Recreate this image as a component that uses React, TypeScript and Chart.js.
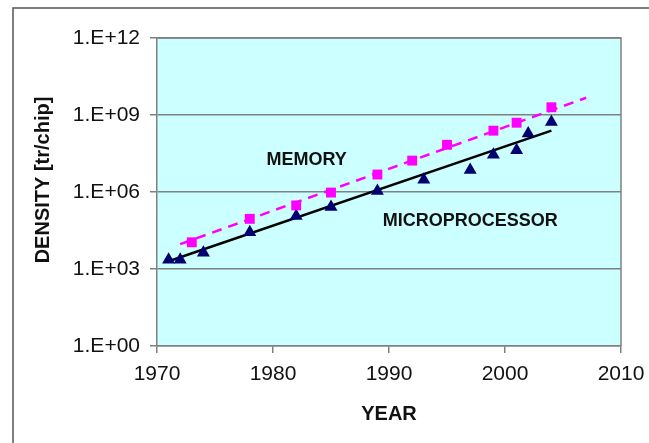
import React, { useEffect, useRef } from "react";
import { Chart, registerables } from "chart.js";

Chart.register(...registerables);

// ---- data ----
const memoryYears = [1973, 1978, 1982, 1985, 1989, 1992, 1995, 1999, 2001, 2004];
const memoryDensity = [1.1e4, 9e4, 3e5, 9.5e5, 4.8e6, 1.67e7, 6.9e7, 2.45e8, 5e8, 2e9];

const microYears = [1971, 1972, 1974, 1978, 1982, 1985, 1989, 1993, 1997, 1999, 2001, 2002, 2004];
const microDensity = [2300, 2300, 4300, 2.7e4, 1.15e5, 2.6e5, 1.1e6, 3e6, 7.2e6, 2.8e7, 4.2e7, 1.9e8, 5.3e8];

const memoryTrendYears = [1972, 2007];
const memoryTrendDensity = [9.3e3, 4.7e9];
const microTrendYears = [1971, 2004];
const microTrendDensity = [2.0e3, 2.45e8];

const yTickValues = [1, 1e3, 1e6, 1e9, 1e12];
const yTickLabels = ["1.E+00", "1.E+03", "1.E+06", "1.E+09", "1.E+12"];
const xTickValues = [1970, 1980, 1990, 2000, 2010];

const yAxisTitle = "DENSITY [tr/chip]";
const xAxisTitle = "YEAR";

const annotationTexts = ["MEMORY", "MICROPROCESSOR"];
const annotationYears = [1982.9, 1997.0];
const annotationDensity = [1.8e7, 7.1e4];

const FONT = "'Liberation Sans', Arial, sans-serif";

export default function App() {
  const canvasRef = useRef<HTMLCanvasElement | null>(null);

  useEffect(() => {
    const canvas = canvasRef.current;
    if (!canvas) return;

    const framePlugin = {
      id: "frameAndBg",
      beforeDraw(chart: any) {
        const { ctx, chartArea } = chart;
        ctx.save();
        ctx.fillStyle = "#ffffff";
        ctx.fillRect(0, 0, chart.width, chart.height);
        ctx.strokeStyle = "#555555";
        ctx.lineWidth = 1.5;
        ctx.strokeRect(13, 8, 700, 500);
        ctx.fillStyle = "#ccffff";
        ctx.fillRect(chartArea.left, chartArea.top, chartArea.right - chartArea.left, chartArea.bottom - chartArea.top);
        ctx.restore();
      },
      afterDraw(chart: any) {
        const { ctx, chartArea, scales } = chart;
        ctx.save();
        ctx.strokeStyle = "#808080";
        ctx.lineWidth = 1.5;
        ctx.beginPath();
        ctx.moveTo(chartArea.left, chartArea.top);
        ctx.lineTo(chartArea.right, chartArea.top);
        ctx.lineTo(chartArea.right, chartArea.bottom);
        ctx.stroke();
        ctx.fillStyle = "#111111";
        ctx.font = `bold 18px ${FONT}`;
        ctx.textAlign = "center";
        ctx.textBaseline = "middle";
        annotationTexts.forEach((t, i) => {
          ctx.fillText(t, scales.x.getPixelForValue(annotationYears[i]), scales.y.getPixelForValue(annotationDensity[i]));
        });
        // y-axis title
        ctx.font = `bold 20px ${FONT}`;
        ctx.translate(43, (chartArea.top + chartArea.bottom) / 2 - 12);
        ctx.rotate(-Math.PI / 2);
        ctx.fillText(yAxisTitle, 0, 0);
        ctx.restore();
      },
    };

    const chart = new Chart(canvas, {
      type: "scatter",
      data: {
        datasets: [
          {
            label: "Memory",
            data: memoryYears.map((x, i) => ({ x, y: memoryDensity[i] })),
            pointStyle: "rect",
            pointRadius: 7,
            backgroundColor: "#ff00ff",
            borderColor: "#ff00ff",
            borderWidth: 0,
            showLine: false,
            order: 0,
          },
          {
            label: "Microprocessor",
            data: microYears.map((x, i) => ({ x, y: microDensity[i] })),
            pointStyle: "triangle",
            pointRadius: 7.5,
            backgroundColor: "#000070",
            borderColor: "#000070",
            borderWidth: 0,
            showLine: false,
            order: 0,
          },
          {
            label: "Memory trend",
            data: memoryTrendYears.map((x, i) => ({ x, y: memoryTrendDensity[i] })),
            showLine: true,
            pointRadius: 0,
            borderColor: "#ff00ff",
            borderWidth: 2.5,
            borderDash: [10, 7],
            order: 1,
          },
          {
            label: "Microprocessor trend",
            data: microTrendYears.map((x, i) => ({ x, y: microTrendDensity[i] })),
            showLine: true,
            pointRadius: 0,
            borderColor: "#000000",
            borderWidth: 2.5,
            order: 1,
          },
        ],
      },
      options: {
        responsive: false,
        animation: false,
        devicePixelRatio: 1,
        layout: { padding: { left: 0, top: 38, right: 28, bottom: 0 } },
        plugins: {
          legend: { display: false },
          tooltip: { enabled: false },
        },
        scales: {
          x: {
            type: "linear",
            min: 1970,
            max: 2010,
            afterBuildTicks: (scale: any) => {
              scale.ticks = xTickValues.map((v) => ({ value: v }));
            },
            afterFit: (scale: any) => {
              scale.height = 97;
              scale.paddingLeft = 0;
              scale.paddingRight = 0;
            },
            ticks: {
              color: "#111111",
              font: { family: FONT, size: 21 },
              padding: 9,
              maxRotation: 0,
              callback: (v: any) => String(v),
            },
            grid: {
              drawOnChartArea: false,
              drawTicks: true,
              tickLength: 7,
              color: "#808080",
              lineWidth: 1.5,
            },
            border: { color: "#808080", width: 1.5 },
            title: {
              display: true,
              text: xAxisTitle,
              color: "#111111",
              font: { family: FONT, size: 20, weight: "bold" },
              padding: { top: 0, bottom: 17 },
            },
          },
          y: {
            type: "logarithmic",
            min: 1,
            max: 1e12,
            afterBuildTicks: (scale: any) => {
              scale.ticks = yTickValues.map((v) => ({ value: v }));
            },
            afterFit: (scale: any) => {
              scale.width = 157;
            },
            ticks: {
              color: "#111111",
              font: { family: FONT, size: 21 },
              padding: 10,
              callback: (v: any) => {
                const idx = yTickValues.indexOf(Number(v));
                return idx >= 0 ? yTickLabels[idx] : "";
              },
            },
            grid: {
              drawOnChartArea: true,
              drawTicks: true,
              tickLength: 7,
              color: "#808080",
              lineWidth: 1.5,
            },
            border: { color: "#808080", width: 1.5 },
            title: { display: false },
          },
        },
      },
      plugins: [framePlugin],
    } as any);

    return () => chart.destroy();
  }, []);

  return (
    <div style={{ position: "fixed", left: 0, top: 0, width: 649, height: 443, background: "#fff" }}>
      <canvas ref={canvasRef} width={649} height={443} style={{ display: "block", width: 649, height: 443 }} />
    </div>
  );
}
